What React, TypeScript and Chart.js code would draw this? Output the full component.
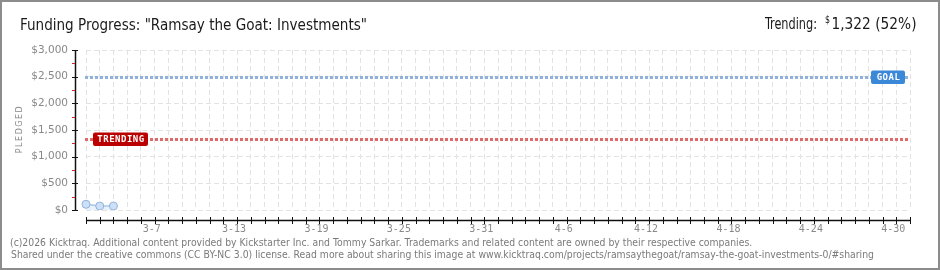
import React, { useEffect, useRef } from 'react';
import { Chart, registerables } from 'chart.js';

Chart.register(...registerables);

const dates = [
  '3-2', '3-3', '3-4', '3-5', '3-6', '3-7', '3-8', '3-9', '3-10', '3-11', '3-12', '3-13', '3-14', '3-15', '3-16',
  '3-17', '3-18', '3-19', '3-20', '3-21', '3-22', '3-23', '3-24', '3-25', '3-26', '3-27', '3-28', '3-29', '3-30', '3-31',
  '4-1', '4-2', '4-3', '4-4', '4-5', '4-6', '4-7', '4-8', '4-9', '4-10', '4-11', '4-12', '4-13', '4-14', '4-15',
  '4-16', '4-17', '4-18', '4-19', '4-20', '4-21', '4-22', '4-23', '4-24', '4-25', '4-26', '4-27', '4-28', '4-29', '4-30',
  '5-1',
];
const shownTickLabels = ['3-7', '3-13', '3-19', '3-25', '3-31', '4-6', '4-12', '4-18', '4-24', '4-30'];
const pledged = [107, 75, 75];
const yTickValues = [0, 500, 1000, 1500, 2000, 2500, 3000];
const yMinorValues = [250, 750, 1250, 1750, 2250, 2750];
const goal = 2500;
const trending = 1322;
const trendingPct = 52;

const titleText = 'Funding Progress: "Ramsay the Goat: Investments"';
const footerLine1 =
  '(c)2026 Kicktraq. Additional content provided by Kickstarter Inc. and Tommy Sarkar. Trademarks and related content are owned by their respective companies.';
const footerLine2 =
  'Shared under the creative commons (CC BY-NC 3.0) license. Read more about sharing this image at www.kicktraq.com/projects/ramsaythegoat/ramsay-the-goat-investments-0/#sharing';

const fmtMoney = (v: number) => '$' + Number(v).toLocaleString('en-US');

function fitText(ctx: CanvasRenderingContext2D, text: string, x: number, y: number, width: number) {
  const w = ctx.measureText(text).width;
  const s = width / w;
  ctx.save();
  ctx.translate(x, y);
  ctx.scale(s, 1);
  ctx.textAlign = 'left';
  ctx.fillText(text, 0, 0);
  ctx.restore();
}

function roundRect(ctx: CanvasRenderingContext2D, x: number, y: number, w: number, h: number, r: number) {
  ctx.beginPath();
  ctx.moveTo(x + r, y);
  ctx.lineTo(x + w - r, y);
  ctx.quadraticCurveTo(x + w, y, x + w, y + r);
  ctx.lineTo(x + w, y + h - r);
  ctx.quadraticCurveTo(x + w, y + h, x + w - r, y + h);
  ctx.lineTo(x + r, y + h);
  ctx.quadraticCurveTo(x, y + h, x, y + h - r);
  ctx.lineTo(x, y + r);
  ctx.quadraticCurveTo(x, y, x + r, y);
  ctx.closePath();
}

const kicktraqPlugin = {
  id: 'kicktraq',
  beforeDraw(chart: any) {
    const ctx = chart.ctx as CanvasRenderingContext2D;
    ctx.save();
    ctx.fillStyle = '#ffffff';
    ctx.fillRect(0, 0, chart.width, chart.height);
    ctx.restore();
  },
  beforeDatasetsDraw(chart: any) {
    const ctx = chart.ctx as CanvasRenderingContext2D;
    const { left, right } = chart.chartArea;
    const y = chart.scales.y;
    const drawDotted = (val: number, color: string) => {
      const py = Math.round(y.getPixelForValue(val)) + 0.5;
      ctx.save();
      ctx.strokeStyle = color;
      ctx.lineWidth = 3;
      ctx.setLineDash([3, 2]);
      ctx.beginPath();
      ctx.moveTo(left - 1, py);
      ctx.lineTo(right, py);
      ctx.stroke();
      ctx.restore();
    };
    drawDotted(goal, '#8fb2dd');
    drawDotted(trending, '#e06a6a');
  },
  afterDraw(chart: any) {
    const ctx = chart.ctx as CanvasRenderingContext2D;
    const { left, right, top, bottom } = chart.chartArea;
    const xs = chart.scales.x;
    const ys = chart.scales.y;

    // y axis line and ticks
    ctx.save();
    ctx.strokeStyle = '#111';
    ctx.lineWidth = 1.5;
    ctx.beginPath();
    ctx.moveTo(75.5, top);
    ctx.lineTo(75.5, bottom);
    ctx.stroke();
    ctx.lineWidth = 1;
    yTickValues.forEach((v) => {
      const py = Math.round(ys.getPixelForValue(v)) + 0.5;
      ctx.beginPath();
      ctx.moveTo(72, py);
      ctx.lineTo(78, py);
      ctx.stroke();
    });
    ctx.strokeStyle = '#e02020';
    yMinorValues.forEach((v) => {
      const py = Math.round(ys.getPixelForValue(v)) + 0.5;
      ctx.beginPath();
      ctx.moveTo(72, py);
      ctx.lineTo(75, py);
      ctx.stroke();
    });
    // x axis line and ticks
    ctx.strokeStyle = '#111';
    ctx.lineWidth = 1.5;
    ctx.beginPath();
    ctx.moveTo(left, 220.5);
    ctx.lineTo(right, 220.5);
    ctx.stroke();
    ctx.lineWidth = 1;
    dates.forEach((_, i) => {
      const px = Math.round(xs.getPixelForValue(i)) + 0.5;
      ctx.beginPath();
      ctx.moveTo(px, 217);
      ctx.lineTo(px, 224);
      ctx.stroke();
    });
    ctx.restore();

    // Label boxes
    const drawTag = (text: string, x: number, w: number, val: number, color: string) => {
      const cy = ys.getPixelForValue(val);
      ctx.save();
      ctx.fillStyle = color;
      roundRect(ctx, x, Math.round(cy) - 6.5, w, 13.5, 2);
      ctx.fill();
      ctx.fillStyle = '#ffffff';
      ctx.font = 'bold 9px "DejaVu Sans Mono", monospace';
      ctx.textAlign = 'center';
      ctx.textBaseline = 'middle';
      (ctx as any).letterSpacing = '0.5px';
      ctx.fillText(text, x + w / 2 + 0.5, Math.round(cy) + 0.5);
      ctx.restore();
    };
    drawTag('TRENDING', 93, 55, trending, '#bb0000');
    drawTag('GOAL', 871, 34, goal, '#3b88d8');

    // PLEDGED axis title
    ctx.save();
    ctx.translate(20, 129);
    ctx.rotate(-Math.PI / 2);
    ctx.fillStyle = '#8a8a8a';
    ctx.font = '8px "DejaVu Sans", sans-serif';
    (ctx as any).letterSpacing = '1.5px';
    ctx.textAlign = 'center';
    ctx.textBaseline = 'middle';
    ctx.fillText('PLEDGED', 0, 0);
    ctx.restore();

    // Title
    ctx.save();
    ctx.fillStyle = '#1a1a1a';
    ctx.textBaseline = 'alphabetic';
    ctx.font = '16px "Liberation Sans Narrow", "DejaVu Sans Condensed", sans-serif';
    fitText(ctx, titleText, 20, 29.5, 347);
    // Trending text
    fitText(ctx, 'Trending:', 765, 28.5, 52);
    ctx.font = '10px "Liberation Sans Narrow", "DejaVu Sans Condensed", sans-serif';
    fitText(ctx, '$', 825, 23, 5);
    ctx.font = '16px "Liberation Sans Narrow", "DejaVu Sans Condensed", sans-serif';
    fitText(ctx, `${Number(trending).toLocaleString('en-US')} (${trendingPct}%)`, 831.5, 28.5, 85);
    ctx.restore();

    // Footer
    ctx.save();
    ctx.fillStyle = '#7a7a7a';
    ctx.font = '10px "DejaVu Sans", sans-serif';
    ctx.textBaseline = 'middle';
    const s = 863 / ctx.measureText(footerLine2).width;
    [footerLine1, footerLine2].forEach((line, i) => {
      ctx.save();
      ctx.translate(i === 0 ? 10 : 11, i === 0 ? 243.5 : 255);
      ctx.scale(s, 1);
      ctx.fillText(line, 0, 0);
      ctx.restore();
    });
    ctx.restore();
  },
};

export default function App() {
  const canvasRef = useRef<HTMLCanvasElement | null>(null);

  useEffect(() => {
    const canvas = canvasRef.current;
    if (!canvas) return;
    const gridColor = '#e3e3e3';
    const chart = new Chart(canvas, {
      type: 'line',
      data: {
        labels: dates,
        datasets: [
          {
            data: pledged,
            borderColor: '#a9c7eb',
            borderWidth: 1.5,
            backgroundColor: 'rgba(206,223,245,0.45)',
            fill: 'origin',
            pointRadius: 4,
            pointBackgroundColor: '#cde0f7',
            pointBorderColor: '#90b4df',
            pointBorderWidth: 1,
            tension: 0,
          },
        ],
      },
      options: {
        animation: false,
        responsive: false,
        devicePixelRatio: 1,
        layout: { padding: { left: 0, right: 30, top: 50, bottom: 0 } },
        plugins: {
          legend: { display: false },
          tooltip: { enabled: false },
          title: { display: false },
        },
        scales: {
          x: {
            type: 'category',
            offset: false,
            grid: { color: gridColor, drawTicks: false, lineWidth: 1 },
            border: { display: false, dash: [5, 3] },
            ticks: {
              autoSkip: false,
              maxRotation: 0,
              minRotation: 0,
              padding: 13,
              labelOffset: -3,
              color: '#8a8a8a',
              font: { family: '"DejaVu Sans Mono", monospace', size: 10 },
              callback: (_v: any, i: number) => (shownTickLabels.includes(dates[i]) ? dates[i] : ''),
            },
            afterFit: (s: any) => {
              s.height = 60;
            },
          },
          y: {
            min: 0,
            max: 3000,
            grid: { color: gridColor, drawTicks: false, lineWidth: 1 },
            border: { display: false, dash: [5, 3] },
            ticks: {
              stepSize: 500,
              padding: 18,
              color: '#888888',
              font: { family: '"DejaVu Sans", sans-serif', size: 10.5 },
              callback: (v: any) => fmtMoney(Number(v)),
            },
            afterFit: (s: any) => {
              s.width = 86;
            },
          },
        },
      },
      plugins: [kicktraqPlugin],
    } as any);
    return () => chart.destroy();
  }, []);

  return (
    <div style={{ position: 'absolute', left: 0, top: 0, width: 940, height: 270, background: '#fff' }}>
      <canvas ref={canvasRef} width={940} height={270} style={{ display: 'block', width: 940, height: 270 }} />
      <div
        style={{
          position: 'absolute',
          left: 0,
          top: 0,
          width: 940,
          height: 270,
          boxSizing: 'border-box',
          border: '2px solid #8c8c8c',
          pointerEvents: 'none',
        }}
      />
    </div>
  );
}
